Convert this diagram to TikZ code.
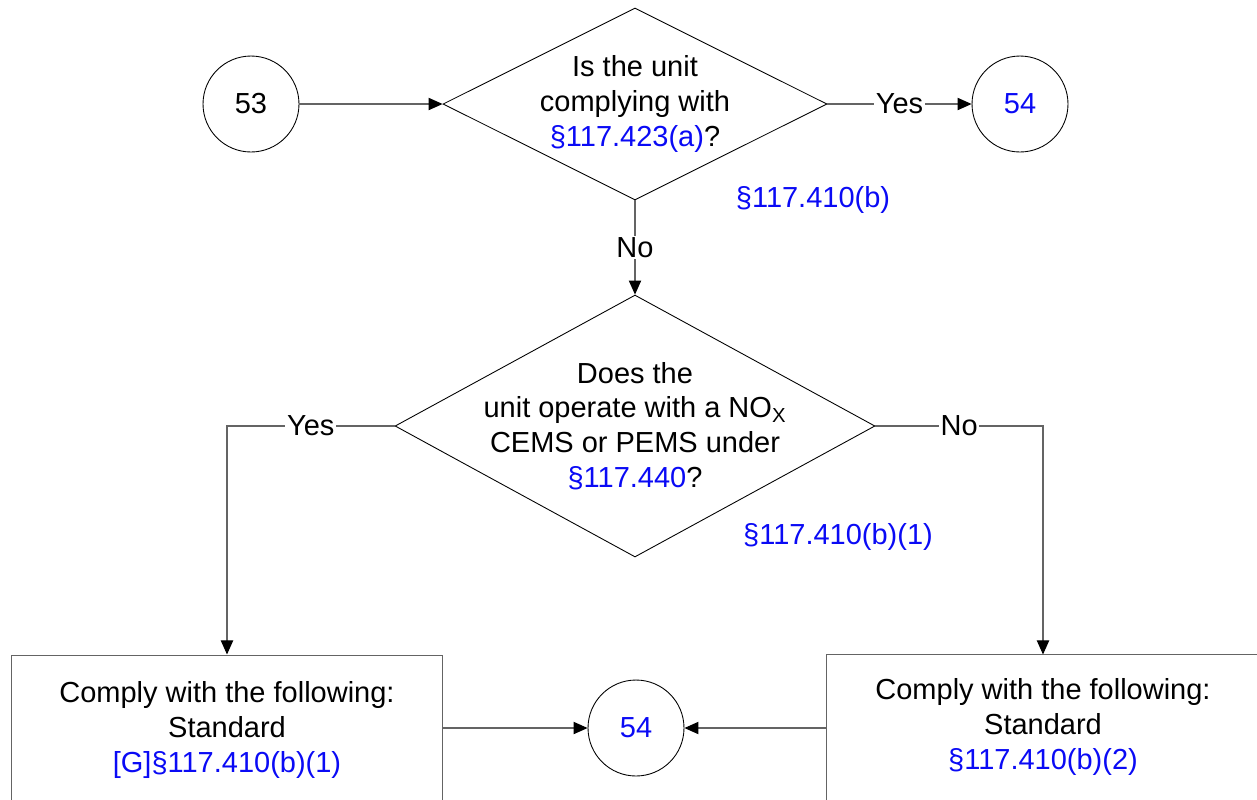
\documentclass[tikz,border=0pt]{standalone}
\usepackage{fontspec}
\setmainfont{Liberation Sans}
\usetikzlibrary{%
  arrows.meta,
  shapes.geometric,
  positioning
}
\definecolor{linegray}{RGB}{100,100,100}
\definecolor{refblue}{RGB}{10,10,245}
\newcommand{\refs}[1]{\textcolor{refblue}{#1}}
\tikzset{
  every node/.style={font=\fontsize{16.5}{19.8}\selectfont},
  flow/.style={draw=linegray, line width=0.6pt,
               -{Triangle[length=8pt, width=7pt, color=black]}},
  onpage/.style={circle, draw=black, line width=0.5pt,
                 minimum size=1.92cm, inner sep=0pt},
  decision/.style={diamond, draw=black, line width=0.5pt, inner sep=0pt},
  qtext/.style={align=center, inner sep=0pt},
  reftext/.style={text=refblue, inner sep=0pt},
  action/.style={rectangle, draw=linegray, line width=0.6pt, align=center,
                 minimum width=8.64cm, minimum height=3cm},
  edgelabel/.style={fill=white, inner sep=1pt},
}

\begin{document}
\begin{tikzpicture}[x=0.02cm, y=-0.02cm]
    \useasboundingbox (0,0) rectangle (1257,799) ;
    \clip (0,0) rectangle (1257,799) ;

    % first question
    \node [onpage] (c53) at (251,104) {53} ;
    \node [decision, minimum width=7.68cm, minimum height=3.84cm]
          (q1) at (635,104) {} ;
    \node [qtext] (q1text) at (q1)
          {Is the unit\\complying with\\\refs{§117.423(a)}?} ;
    \node [onpage] (c54top) at (1020,104) {\refs{54}} ;
    \node [reftext] (ref1) at (813,200) {§117.410(b)} ;

    % second question
    \node [decision, minimum width=9.6cm, minimum height=5.24cm]
          (q2) at (635,426) {} ;
    \node [qtext] (q2text) at (q2)
          {Does the\\unit operate with a NO\textsubscript{X}\\CEMS or PEMS under\\\refs{§117.440}?} ;
    \node [reftext] (ref2) at (838,537) {§117.410(b)(1)} ;

    % outcomes (the right one runs off the page)
    \node [action] (std1) at (227,730)
          {Comply with the following:\\Standard\\\refs{[G]§117.410(b)(1)}} ;
    \node [action, draw=none, minimum width=9.2cm] (std2) at (1057,730) {} ;
    \draw [linegray, line width=0.6pt]
          (std2.north east) -- (std2.north west) -- (std2.south west) ;
    \node [qtext] (std2text) at (1043,727)
          {Comply with the following:\\Standard\\\refs{§117.410(b)(2)}} ;
    \node [onpage] (c54bot) at (636,728) {\refs{54}} ;

    \draw [flow] (c53) -- (q1) ;
    \draw [flow] (q1) -- node [edgelabel] {Yes} (c54top) ;
    \draw [flow] (q1) -- node [edgelabel] {No} (q2) ;
    \draw [flow] (q2.west) -| node [edgelabel, pos=0.25] {Yes} (std1.north) ;
    \draw [flow] (q2.east) -| node [edgelabel, pos=0.25] {No}
          (std2text |- std2.north) ;
    \draw [flow] (std1.east |- c54bot) -- (c54bot) ;
    \draw [flow] (std2.west |- c54bot) -- (c54bot) ;
\end{tikzpicture}
\end{document}
